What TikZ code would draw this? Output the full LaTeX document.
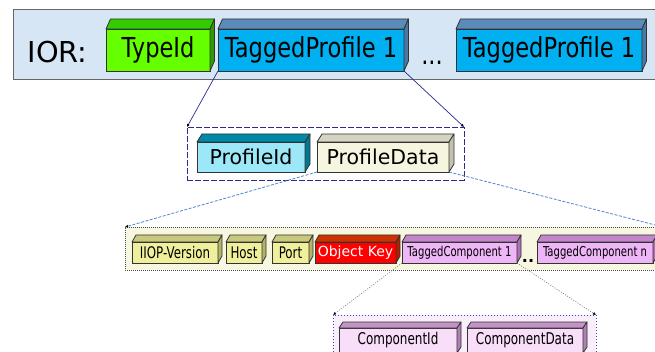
\documentclass[tikz,border=0pt]{standalone}
\usepackage{fontspec}
\setmainfont{DejaVu Sans}
\newfontfamily\narrowfont{DejaVu Sans}[FakeStretch=0.82]
\newfontfamily\narrowerfont{DejaVu Sans}[FakeStretch=0.74]
\usetikzlibrary{positioning,arrows.meta}
\definecolor{panelblue}{HTML}{D6E6F4}
\definecolor{typegreen}{HTML}{66FF00}
\definecolor{typegreentop}{HTML}{33CC00}
\definecolor{typegreenside}{HTML}{2A9E00}
\definecolor{profblue}{HTML}{00B0F0}
\definecolor{profbluetop}{HTML}{5B8BB8}
\definecolor{profblueside}{HTML}{4A78A6}
\definecolor{idcyan}{HTML}{9DE8F8}
\definecolor{idcyantop}{HTML}{0089A8}
\definecolor{idcyanside}{HTML}{007892}
\definecolor{databeige}{HTML}{F6F6E0}
\definecolor{databeigetop}{HTML}{D4D4C0}
\definecolor{databeigeside}{HTML}{C2C2AE}
\definecolor{iiopyellow}{HTML}{F0F09C}
\definecolor{iiopyellowtop}{HTML}{C9C97D}
\definecolor{iiopyellowside}{HTML}{B4B468}
\definecolor{keyred}{HTML}{FF0000}
\definecolor{keyredtop}{HTML}{CC3300}
\definecolor{keyredside}{HTML}{B02000}
\definecolor{compviolet}{HTML}{EEB6F6}
\definecolor{compviolettop}{HTML}{C386CB}
\definecolor{compvioletside}{HTML}{AE70B6}
\definecolor{cidpink}{HTML}{F8DEF8}
\definecolor{cidpinktop}{HTML}{C493C6}
\definecolor{cidpinkside}{HTML}{B07FB3}
\definecolor{navyline}{HTML}{2A2A90}
\definecolor{dashblue}{HTML}{4F86D0}
\definecolor{bodybeige}{HTML}{F7F7E1}
\definecolor{complilac}{HTML}{F9EEFB}
\definecolor{lilacedge}{HTML}{5040C0}
\tikzset{
  face/.style={rectangle,draw=black!80,line width=0.8pt,inner sep=0pt,outer sep=0pt},
  facedge/.style={draw=black!80,line width=0.8pt,line join=round},
  toptext/.style={font=\narrowfont\fontsize{27.5pt}{30pt}\selectfont},
  midtext/.style={font=\fontsize{20.5pt}{23pt}\selectfont},
  lowtext/.style={font=\narrowerfont\fontsize{16pt}{17pt}\selectfont},
  comptext/.style={font=\narrowerfont\fontsize{13.6pt}{15pt}\selectfont},
  leaftext/.style={font=\narrowerfont\fontsize{16.2pt}{17pt}\selectfont},
  panel/.style={rectangle,draw=black!60,line width=0.8pt,fill=panelblue,inner sep=0pt,outer sep=0pt,anchor=north west},
  profbox/.style={rectangle,draw=navyline,line width=0.8pt,dash pattern=on 6pt off 2pt,inner sep=0pt,outer sep=0pt,anchor=north west},
  bodybox/.style={rectangle,draw=black!70,line width=0.8pt,dash pattern=on 1pt off 1pt,fill=bodybeige,inner sep=0pt,outer sep=0pt,anchor=north west},
  compbox/.style={rectangle,draw=lilacedge,line width=0.8pt,dash pattern=on 1pt off 2pt,fill=complilac,inner sep=0pt,outer sep=0pt,anchor=north west},
  expand/.style={draw=navyline,line width=0.7pt,-{Latex[length=3pt,width=3pt,black]}},
  expanddash/.style={draw=dashblue,line width=0.8pt,dash pattern=on 3pt off 1.5pt,-{Latex[length=3pt,width=3pt,black]}},
  expanddot/.style={draw=black!50,line width=0.7pt,dash pattern=on 1pt off 1.5pt,-{Latex[length=3pt,width=3pt,black]}}
}
% top face and side face behind a front node
\newcommand{\drawdepth}[5]{%
  \filldraw[facedge,fill=#2] (#1.north west) -- ++(#4,#5) -- ([shift={(#4,#5)}]#1.north east) -- (#1.north east) -- cycle;
  \filldraw[facedge,fill=#3] (#1.north east) -- ++(#4,#5) -- ([shift={(#4,#5)}]#1.south east) -- (#1.south east) -- cycle;
}

\begin{document}
\begin{tikzpicture}[x=1pt,y=-1pt]
\useasboundingbox (0,0) rectangle (655,352);
\clip (0,0) rectangle (655,352);

% containers
\node[panel,minimum width=660pt,minimum height=70pt] (ior) at (13,9) {};
\node[profbox,minimum width=277pt,minimum height=53pt] (profiles) at (187,127) {};
\node[bodybox,minimum width=538pt,minimum height=43pt] (profbody) at (125,227) {};
\node[compbox,minimum width=263pt,minimum height=50pt] (components) at (333,315) {};

% IOR row
\node[anchor=west,font=\fontsize{28.8pt}{31pt}\selectfont] (iorlabel) at (24,52) {IOR:};
\node[face,toptext,fill=typegreen,anchor=north west,minimum width=104pt,minimum height=42pt] (typeid) at (106,29) {TypeId};
\node[face,toptext,fill=profblue,right=8pt of typeid,minimum width=186pt,minimum height=42pt] (tp1) {TaggedProfile 1};
\node[face,toptext,fill=profblue,right=52pt of tp1,minimum width=186pt,minimum height=42pt] (tpn) {TaggedProfile 1};
\node[toptext,anchor=base,inner sep=0pt] (tpdots) at (432,65) {...};
\drawdepth{typeid}{typegreentop}{typegreenside}{4.5}{-10}
\drawdepth{tp1}{profbluetop}{profblueside}{4.5}{-10}
\drawdepth{tpn}{profbluetop}{profblueside}{4.5}{-10}

% profile row
\node[face,midtext,fill=idcyan,anchor=north west,minimum width=108pt,minimum height=30pt] (pid) at (197,142) {ProfileId};
\node[face,midtext,fill=databeige,right=12pt of pid,minimum width=132pt,minimum height=30pt] (pdata) {ProfileData};
\drawdepth{pid}{idcyantop}{idcyanside}{5}{-8}
\drawdepth{pdata}{databeigetop}{databeigeside}{5}{-8}

% profile body row
\node[face,lowtext,fill=iiopyellow,anchor=north west,minimum width=86pt,minimum height=21pt] (iiop) at (132,242) {IIOP-Version};
\node[face,lowtext,fill=iiopyellow,right=8pt of iiop,minimum width=36pt,minimum height=21pt] (host) {Host};
\node[face,lowtext,fill=iiopyellow,right=10pt of host,minimum width=37pt,minimum height=21pt] (port) {Port};
\node[face,fill=keyred,text=white,font=\fontsize{14pt}{15pt}\selectfont,right=6pt of port,minimum width=81pt,minimum height=21pt] (okey) {Object Key};
\node[face,comptext,fill=compviolet,right=6pt of okey,minimum width=115pt,minimum height=21pt] (tc1) {TaggedComponent 1};
\node[face,comptext,fill=compviolet,right=20pt of tc1,minimum width=116pt,minimum height=21pt] (tcn) {TaggedComponent n};
\node[font=\fontsize{16pt}{16pt}\selectfont\bfseries,anchor=base,inner sep=0pt] (tcdots) at (528,262) {..};
\drawdepth{iiop}{iiopyellowtop}{iiopyellowside}{4}{-7}
\drawdepth{host}{iiopyellowtop}{iiopyellowside}{4}{-7}
\drawdepth{port}{iiopyellowtop}{iiopyellowside}{4}{-7}
\drawdepth{okey}{keyredtop}{keyredside}{4}{-7}
\drawdepth{tc1}{compviolettop}{compvioletside}{4}{-7}
\drawdepth{tcn}{compviolettop}{compvioletside}{4}{-7}

% component row
\node[face,leaftext,fill=cidpink,anchor=north west,minimum width=118pt,minimum height=25pt] (cid) at (339,328) {ComponentId};
\node[face,leaftext,fill=cidpink,right=10pt of cid,minimum width=116pt,minimum height=25pt] (cdata) {ComponentData};
\drawdepth{cid}{cidpinktop}{cidpinkside}{4}{-6}
\drawdepth{cdata}{cidpinktop}{cidpinkside}{4}{-6}

% expansions
\draw[expand] (tp1.south west) -- (profiles.north west);
\draw[expand] (tp1.south east) -- (profiles.north east);
\draw[expanddash] (pdata.south west) -- (profbody.north west);
\draw[expanddash] (pdata.south east) -- (profbody.north east);
\draw[expanddot] (tc1.south west) -- (components.north west);
\draw[expanddot] (tc1.south east) -- (components.north east);
\end{tikzpicture}
\end{document}
